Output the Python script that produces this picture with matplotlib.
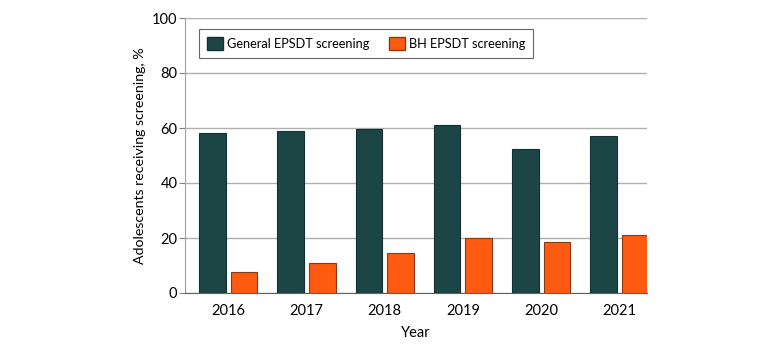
import matplotlib
matplotlib.use("Agg")
import matplotlib.pyplot as plt
from matplotlib.patches import Patch
import numpy as np

years = ["2016", "2017", "2018", "2019", "2020", "2021"]
general = [58.2, 59.0, 59.6, 61.0, 52.4, 57.0]
bh = [7.7, 10.8, 14.5, 20.0, 18.5, 21.0]
series_names = ["General EPSDT screening", "BH EPSDT screening"]
yticks = [0, 20, 40, 60, 80, 100]

plt.rcParams['font.family'] = ['Lato', 'DejaVu Sans']

fig = plt.figure(figsize=(7.8, 3.48), dpi=100)
ax = fig.add_axes([185/780, 1-293/348, (647-185)/780, (293-18)/348])

x = np.arange(len(years))
w = 0.34
gap = 0.064
c_gen = "#1c4645"
c_bh = "#ff5a12"
ax.bar(x - (w+gap)/2, general, width=w, color=c_gen, edgecolor="#12302f", linewidth=0.8, zorder=3)
ax.bar(x + (w+gap)/2, bh, width=w, color=c_bh, edgecolor="#8a3a10", linewidth=0.8, zorder=3)

ax.set_xlim(-0.55, 5.35)
ax.set_ylim(0, 100)
ax.set_yticks(yticks)
ax.set_xticks(x)
ax.set_xticklabels(years)
ax.yaxis.grid(True, color="#b0b0b0", linewidth=1.0, zorder=0)
ax.set_axisbelow(True)
for s in ["top", "right"]:
    ax.spines[s].set_visible(False)
ax.spines["left"].set_color("#a0a0a0")
ax.spines["bottom"].set_color("#606060")
ax.tick_params(axis="y", length=4, color="#808080", labelsize=10.5, pad=1.5)
ax.tick_params(axis="x", length=0, labelsize=10.5, pad=8)
ax.set_xlabel("Year", fontsize=10.5, labelpad=6)
ax.set_ylabel("Adolescents receiving screening, %", fontsize=10.2, labelpad=4)

handles = [Patch(facecolor=c_gen, edgecolor="#12302f"), Patch(facecolor=c_bh, edgecolor="#8a3a10")]
leg = ax.legend(handles, series_names, loc="upper left", bbox_to_anchor=(14/462, 1-11/275), ncol=2,
                frameon=True, fancybox=False, edgecolor="#404040", fontsize=9.2,
                handlelength=1.25, handleheight=1.25, columnspacing=1.5, handletextpad=0.35,
                borderpad=0.6, borderaxespad=0)
leg.get_frame().set_linewidth(0.8)

fig.savefig("out.png", dpi=100)
